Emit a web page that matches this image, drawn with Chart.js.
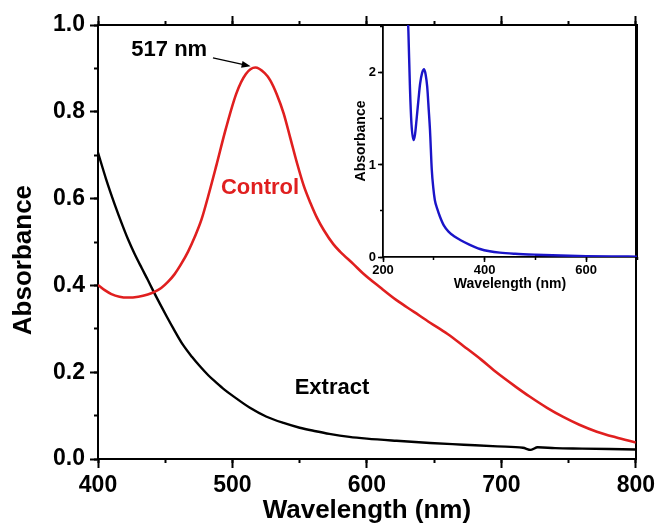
<!DOCTYPE html>
<html>
<head>
<meta charset="utf-8">
<script src="https://cdn.jsdelivr.net/npm/chart.js@4.4.1/dist/chart.umd.min.js"></script>
<style>
  body { margin: 0; background: #fff; }
  #wrap { position: relative; width: 659px; height: 529px; }
  #main { position: absolute; left: 0; top: 0; }
  #inset { position: absolute; left: 330px; top: 15px; }
</style>
</head>
<body>
<div id="wrap">
  <canvas id="main" width="659" height="529"></canvas>
  <canvas id="inset" width="320" height="280"></canvas>
</div>
<script>
// main spectrum: Control (red) and Extract (black)
const controlWl = [400, 405, 410, 416, 422, 430, 437, 442, 447, 452, 457, 462, 467, 472, 477, 482, 488, 495, 503, 510, 517, 524, 528, 533, 538, 543, 548, 553, 558, 563, 568, 575, 580, 590, 597, 610, 622, 635, 647, 660, 672, 685, 697, 710, 721, 734, 746, 758, 771, 785, 800];
const controlAbs = [0.401, 0.389, 0.38, 0.374, 0.372, 0.374, 0.379, 0.385, 0.394, 0.408, 0.426, 0.45, 0.478, 0.512, 0.552, 0.606, 0.676, 0.76, 0.843, 0.887, 0.902, 0.889, 0.873, 0.84, 0.797, 0.74, 0.682, 0.63, 0.59, 0.555, 0.527, 0.495, 0.478, 0.449, 0.428, 0.395, 0.366, 0.339, 0.314, 0.288, 0.26, 0.229, 0.198, 0.168, 0.144, 0.118, 0.097, 0.079, 0.063, 0.05, 0.038];

const extractWl = [400, 406, 412.6, 418, 422.5, 427, 432.5, 437, 441, 446, 451, 456, 463, 470, 476, 482, 488, 494, 500, 513, 525, 538, 550, 562, 572, 587, 600, 622, 647, 672, 697, 716, 722, 727, 740, 760, 780, 800];
const extractAbs = [0.706, 0.645, 0.585, 0.54, 0.505, 0.474, 0.44, 0.413, 0.388, 0.358, 0.329, 0.301, 0.264, 0.235, 0.213, 0.193, 0.176, 0.16, 0.146, 0.118, 0.098, 0.083, 0.072, 0.064, 0.058, 0.051, 0.047, 0.042, 0.037, 0.033, 0.029, 0.026, 0.021, 0.027, 0.025, 0.024, 0.023, 0.022];

// inset spectrum (blue)
const insetWl = [248, 250, 253, 256, 260, 263, 266, 270, 273, 277, 281, 284, 287, 290, 292.5, 296, 299, 302, 307, 312, 320, 329, 340, 352, 370, 391, 410, 430, 460, 500, 550, 600, 650, 700];
const insetAbs = [2.75, 2.45, 1.85, 1.45, 1.27, 1.33, 1.49, 1.72, 1.88, 2.0, 2.04, 1.98, 1.85, 1.6, 1.38, 0.95, 0.75, 0.62, 0.52, 0.44, 0.34, 0.275, 0.225, 0.185, 0.135, 0.087, 0.062, 0.047, 0.035, 0.025, 0.016, 0.01, 0.006, 0.004];

const mainXTicks = [400, 500, 600, 700, 800];
const mainYTicks = [0.0, 0.2, 0.4, 0.6, 0.8, 1.0];

const FONT = '"Liberation Sans", Arial, Helvetica, sans-serif';
const RED = '#e01f1f';
const BLUE = '#1a14c8';

const pts = (xs, ys) => xs.map((x, i) => ({ x: x, y: ys[i] }));

// axis helpers: a major axis (labels, long ticks) and a zero-size minor axis (short ticks)
function hAxis(pos, min, max, step, tl, weight, size, extra) {
  return Object.assign({
    type: 'linear', position: pos, min: min, max: max, weight: weight,
    ticks: { stepSize: step, display: false, includeBounds: false },
    grid: { drawOnChartArea: false, tickLength: tl, tickWidth: 2, tickColor: '#000' },
    border: { display: false },
    afterFit: s => { s.height = size; }
  }, extra || {});
}
function vAxis(pos, min, max, step, tl, weight, size, extra) {
  return Object.assign({
    type: 'linear', position: pos, min: min, max: max, weight: weight,
    ticks: { stepSize: step, display: false, includeBounds: false },
    grid: { drawOnChartArea: false, tickLength: tl, tickWidth: 2, tickColor: '#000' },
    border: { display: false },
    afterFit: s => { s.width = size; }
  }, extra || {});
}

// labels + arrow on the main plot
const notes = {
  id: 'notes',
  afterDatasetsDraw(chart) {
    const { ctx, scales } = chart;
    const x = scales.x, y = scales.y;
    ctx.save();
    ctx.font = 'bold 22px ' + FONT;
    ctx.textAlign = 'center';
    ctx.textBaseline = 'middle';
    ctx.fillStyle = '#000';
    ctx.fillText('517 nm', x.getPixelForValue(453), y.getPixelForValue(0.942));
    ctx.fillText('Extract', x.getPixelForValue(574), y.getPixelForValue(0.164));
    ctx.fillStyle = RED;
    ctx.fillText('Control', x.getPixelForValue(520.5), y.getPixelForValue(0.624));

    // arrow 517 nm -> peak
    const x0 = x.getPixelForValue(485.5), y0 = y.getPixelForValue(0.924);
    const x1 = x.getPixelForValue(513.5), y1 = y.getPixelForValue(0.905);
    const a = Math.atan2(y1 - y0, x1 - x0);
    ctx.strokeStyle = '#000';
    ctx.lineWidth = 1.3;
    ctx.beginPath();
    ctx.moveTo(x0, y0);
    ctx.lineTo(x1 - 6 * Math.cos(a), y1 - 6 * Math.sin(a));
    ctx.stroke();
    ctx.fillStyle = '#000';
    ctx.beginPath();
    ctx.moveTo(x1, y1);
    ctx.lineTo(x1 - 9 * Math.cos(a) + 3.5 * Math.sin(a), y1 - 9 * Math.sin(a) - 3.5 * Math.cos(a));
    ctx.lineTo(x1 - 9 * Math.cos(a) - 3.5 * Math.sin(a), y1 - 9 * Math.sin(a) + 3.5 * Math.cos(a));
    ctx.closePath();
    ctx.fill();
    ctx.restore();
  }
};

new Chart(document.getElementById('main'), {
  type: 'line',
  data: {
    datasets: [
      { label: 'Control', data: pts(controlWl, controlAbs), borderColor: RED, borderWidth: 2.6, pointRadius: 0, cubicInterpolationMode: 'monotone', fill: false },
      { label: 'Extract', data: pts(extractWl, extractAbs), borderColor: '#000', borderWidth: 2.4, pointRadius: 0, cubicInterpolationMode: 'monotone', fill: false }
    ]
  },
  options: {
    responsive: false,
    animation: false,
    events: [],
    layout: { padding: { top: 16, right: 22, left: 0, bottom: 0 } },
    plugins: { legend: { display: false }, tooltip: { enabled: false } },
    scales: {
      x: hAxis('bottom', 400, 800, 100, 9, 1, 70, {
        ticks: {
          stepSize: 100, includeBounds: false, color: '#000', padding: 4,
          font: { family: FONT, size: 23, weight: 'bold' },
          callback: v => mainXTicks.includes(v) ? String(v) : ''
        },
        border: { display: true, width: 2, color: '#000' },
        title: { display: true, text: 'Wavelength (nm)', color: '#000', padding: { bottom: 3 }, font: { family: FONT, size: 26, weight: 'bold' } }
      }),
      xMinor: hAxis('bottom', 400, 800, 50, 4, 0, 0),
      xTop: hAxis('top', 400, 800, 100, 9, 1, 9, { border: { display: true, width: 2, color: '#000' } }),
      xTopMinor: hAxis('top', 400, 800, 50, 4, 0, 0),
      y: vAxis('left', 0, 1, 0.2, 8, 1, 98, {
        ticks: {
          stepSize: 0.2, includeBounds: false, color: '#000', padding: 5,
          font: { family: FONT, size: 23, weight: 'bold' },
          callback: v => mainYTicks.some(t => Math.abs(t - v) < 1e-6) ? v.toFixed(1) : ''
        },
        border: { display: true, width: 2, color: '#000' },
        title: { display: true, text: 'Absorbance     ', color: '#000', padding: { top: 8 }, font: { family: FONT, size: 26, weight: 'bold' } }
      }),
      yMinor: vAxis('left', 0, 1, 0.1, 4, 0, 0),
      yRight: vAxis('right', 0, 1, 0.1, 0, 0, 0, {
        grid: { drawOnChartArea: false, drawTicks: false },
        border: { display: true, width: 2, color: '#000' }
      })
    }
  },
  plugins: [notes]
});

// inset
new Chart(document.getElementById('inset'), {
  type: 'line',
  data: {
    datasets: [
      { label: 'Extract', data: pts(insetWl, insetAbs), borderColor: BLUE, borderWidth: 2.4, pointRadius: 0, cubicInterpolationMode: 'monotone', fill: false }
    ]
  },
  options: {
    responsive: false,
    animation: false,
    events: [],
    layout: { padding: { top: 10, right: 13, left: 0, bottom: 0 } },
    plugins: { legend: { display: false }, tooltip: { enabled: false } },
    scales: {
      x: hAxis('bottom', 200, 700, 200, 5, 1, 38, {
        ticks: {
          stepSize: 200, includeBounds: false, color: '#000', padding: 1,
          font: { family: FONT, size: 13, weight: 'bold' }
        },
        grid: { drawOnChartArea: false, tickLength: 5, tickWidth: 1.5, tickColor: '#000' },
        border: { display: true, width: 1.8, color: '#000' },
        title: { display: true, text: 'Wavelength (nm)', color: '#000', padding: { bottom: 2 }, font: { family: FONT, size: 14, weight: 'bold' } }
      }),
      xMinor: hAxis('bottom', 200, 700, 100, 3, 0, 0, {
        grid: { drawOnChartArea: false, tickLength: 3, tickWidth: 1.5, tickColor: '#000' }
      }),
      y: vAxis('left', 0, 2.52, 1, 5, 1, 53, {
        ticks: {
          stepSize: 1, includeBounds: false, color: '#000', padding: 2,
          font: { family: FONT, size: 13, weight: 'bold' }
        },
        grid: { drawOnChartArea: false, tickLength: 5, tickWidth: 1.5, tickColor: '#000' },
        border: { display: true, width: 1.8, color: '#000' },
        title: { display: true, text: 'Absorbance', color: '#000', padding: { top: 23 }, font: { family: FONT, size: 14, weight: 'bold' } }
      }),
      yMinor: vAxis('left', 0, 2.52, 0.5, 3, 0, 0, {
        grid: { drawOnChartArea: false, tickLength: 3, tickWidth: 1.5, tickColor: '#000' }
      }),
      yRight: vAxis('right', 0, 2.52, 1, 0, 0, 0, {
        grid: { drawOnChartArea: false, drawTicks: false },
        border: { display: true, width: 2, color: '#000' }
      })
    }
  }
});
</script>
</body>
</html>
